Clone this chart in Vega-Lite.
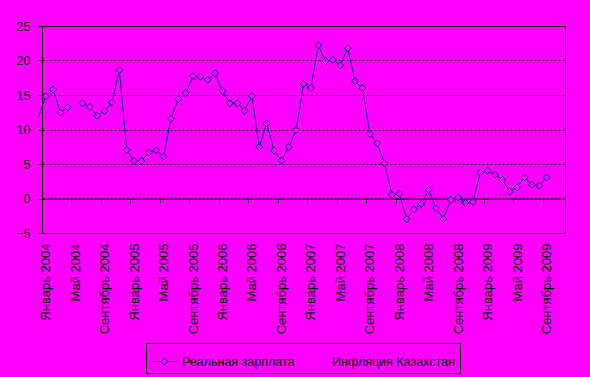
{
  "$schema": "https://vega.github.io/schema/vega-lite/v6.json",
  "width": 523,
  "height": 207,
  "autosize": "none",
  "padding": {"left": 42, "top": 26, "right": 25, "bottom": 144},
  "background": "#FF00FF",
  "config": {
    "view": {"stroke": "#000000", "strokeWidth": 1},
    "font": "Liberation Sans",
    "axis": {"labelColor": "#000000", "labelFont": "Liberation Sans", "domainColor": "#000000", "tickColor": "#000000", "domainWidth": 1, "tickWidth": 1}
  },
  "data": {
    "values": [
      {"i": -1, "v": 11.7}, {"i": 0, "v": 14.8}, {"i": 1, "v": 15.8}, {"i": 2, "v": 12.45}, {"i": 3, "v": 13.2},
      {"i": 4, "v": null}, {"i": 5, "v": 13.8}, {"i": 6, "v": 13.3}, {"i": 7, "v": 12.0}, {"i": 8, "v": 12.7},
      {"i": 9, "v": 13.9}, {"i": 10, "v": 18.6}, {"i": 11, "v": 7.05}, {"i": 12, "v": 5.45}, {"i": 13, "v": 5.45},
      {"i": 14, "v": 6.65}, {"i": 15, "v": 7.0}, {"i": 16, "v": 6.1}, {"i": 17, "v": 11.55}, {"i": 18, "v": 14.4},
      {"i": 19, "v": 15.3}, {"i": 20, "v": 17.75}, {"i": 21, "v": 17.65}, {"i": 22, "v": 17.2}, {"i": 23, "v": 18.15},
      {"i": 24, "v": 15.6}, {"i": 25, "v": 13.8}, {"i": 26, "v": 13.8}, {"i": 27, "v": 12.7}, {"i": 28, "v": 14.85},
      {"i": 29, "v": 7.45}, {"i": 30, "v": 10.9}, {"i": 31, "v": 6.95}, {"i": 32, "v": 5.5}, {"i": 33, "v": 7.45},
      {"i": 34, "v": 9.95}, {"i": 35, "v": 16.6}, {"i": 36, "v": 16.0}, {"i": 37, "v": 22.2}, {"i": 38, "v": 19.9},
      {"i": 39, "v": 20.1}, {"i": 40, "v": 19.3}, {"i": 41, "v": 21.8}, {"i": 42, "v": 17.0}, {"i": 43, "v": 16.0},
      {"i": 44, "v": 9.4}, {"i": 45, "v": 8.0}, {"i": 46, "v": 5.1}, {"i": 47, "v": 0.55}, {"i": 48, "v": 0.7},
      {"i": 49, "v": -3.0}, {"i": 50, "v": -1.55}, {"i": 51, "v": -0.8}, {"i": 52, "v": 1.25}, {"i": 53, "v": -1.4},
      {"i": 54, "v": -2.95}, {"i": 55, "v": -0.2}, {"i": 56, "v": 0.15}, {"i": 57, "v": -0.65}, {"i": 58, "v": -0.5},
      {"i": 59, "v": 3.75}, {"i": 60, "v": 4.05}, {"i": 61, "v": 3.45}, {"i": 62, "v": 2.7}, {"i": 63, "v": 1.0},
      {"i": 64, "v": 1.6}, {"i": 65, "v": 3.1}, {"i": 66, "v": 2.0}, {"i": 67, "v": 1.85}, {"i": 68, "v": 3.05}
    ]
  },
  "resolve": {"axis": {"x": "independent"}},
  "layer": [
    {
      "mark": {"type": "line", "strokeWidth": 1, "invalid": "break-paths-filter-domains"},
      "encoding": {
        "x": {
          "field": "i", "type": "quantitative",
          "scale": {"domain": [-0.5, 70.5], "nice": false, "zero": false},
          "axis": {
            "orient": "bottom", "offset": -34.5, "title": null, "labels": false, "grid": false,
            "ticks": true, "tickSize": 4, "domain": true,
            "values": [3.5, 7.5, 11.5, 15.5, 19.5, 23.5, 27.5, 31.5, 35.5, 39.5, 43.5, 47.5, 51.5, 55.5, 59.5, 63.5, 67.5]
          }
        },
        "y": {
          "field": "v", "type": "quantitative",
          "scale": {"domain": [-5, 25], "nice": false, "zero": false},
          "axis": {
            "title": null, "values": [-5, 0, 5, 10, 15, 20, 25], "grid": true, "gridColor": "#000000",
            "gridDash": [2, 2], "gridWidth": 1, "tickSize": 4, "labelPadding": 8, "labelFontSize": 12.5,
            "domain": true, "labelOverlap": false, "labelFlush": false, "tickCount": 7
          }
        },
        "color": {
          "datum": "Реальная зарплата",
          "scale": {"domain": ["Реальная зарплата", "Инфляция Казахстан"], "range": ["#000080", "#FF00FF"]},
          "legend": {
            "title": null, "orient": "none", "legendX": 104, "legendY": 317, "direction": "horizontal",
            "symbolType": "M-1,0L-0.27,0M-0.27,0L0,-0.27L0.27,0L0,0.27ZM0.27,0L1,0",
            "symbolSize": 676, "symbolStrokeWidth": 1, "symbolFillColor": "#FF00FF",
            "labelFontSize": 12.5, "labelColor": "#000000", "labelFont": "Liberation Sans",
            "strokeColor": "#000000", "fillColor": "#FF00FF", "padding": 5, "columnPadding": 4, "labelOffset": 4
          }
        }
      }
    },
    {
      "transform": [{"filter": "datum.i >= 0 && isValid(datum.v)"}],
      "mark": {"type": "point", "shape": "diamond", "size": 49, "filled": true, "fill": "#FF00FF", "stroke": "#000080", "strokeWidth": 1, "opacity": 1},
      "encoding": {
        "x": {
          "field": "i", "type": "quantitative",
          "axis": {
            "orient": "bottom", "title": null, "ticks": false, "domain": false, "grid": false,
            "values": [0, 4, 8, 12, 16, 20, 24, 28, 32, 36, 40, 44, 48, 52, 56, 60, 64, 68],
            "labelAngle": -90, "labelAlign": "right", "labelBaseline": "middle", "labelPadding": 10,
            "labelFontSize": 13, "labelOverlap": false, "labelFlush": false, "labelBound": false,
            "labelExpr": "(datum.value % 12 == 0 ? 'Январь' : (datum.value % 12 == 4 ? 'Май' : 'Сентябрь')) + ' ' + (2004 + floor(datum.value / 12))"
          }
        },
        "y": {
          "field": "v", "type": "quantitative",
          "axis": {
            "title": null, "values": [-5, 0, 5, 10, 15, 20, 25], "grid": true, "gridColor": "#000000",
            "gridDash": [2, 2], "gridWidth": 1, "tickSize": 4, "labelPadding": 8, "labelFontSize": 12.5,
            "domain": true, "labelOverlap": false, "labelFlush": false, "tickCount": 7
          }
        }
      }
    }
  ]
}
